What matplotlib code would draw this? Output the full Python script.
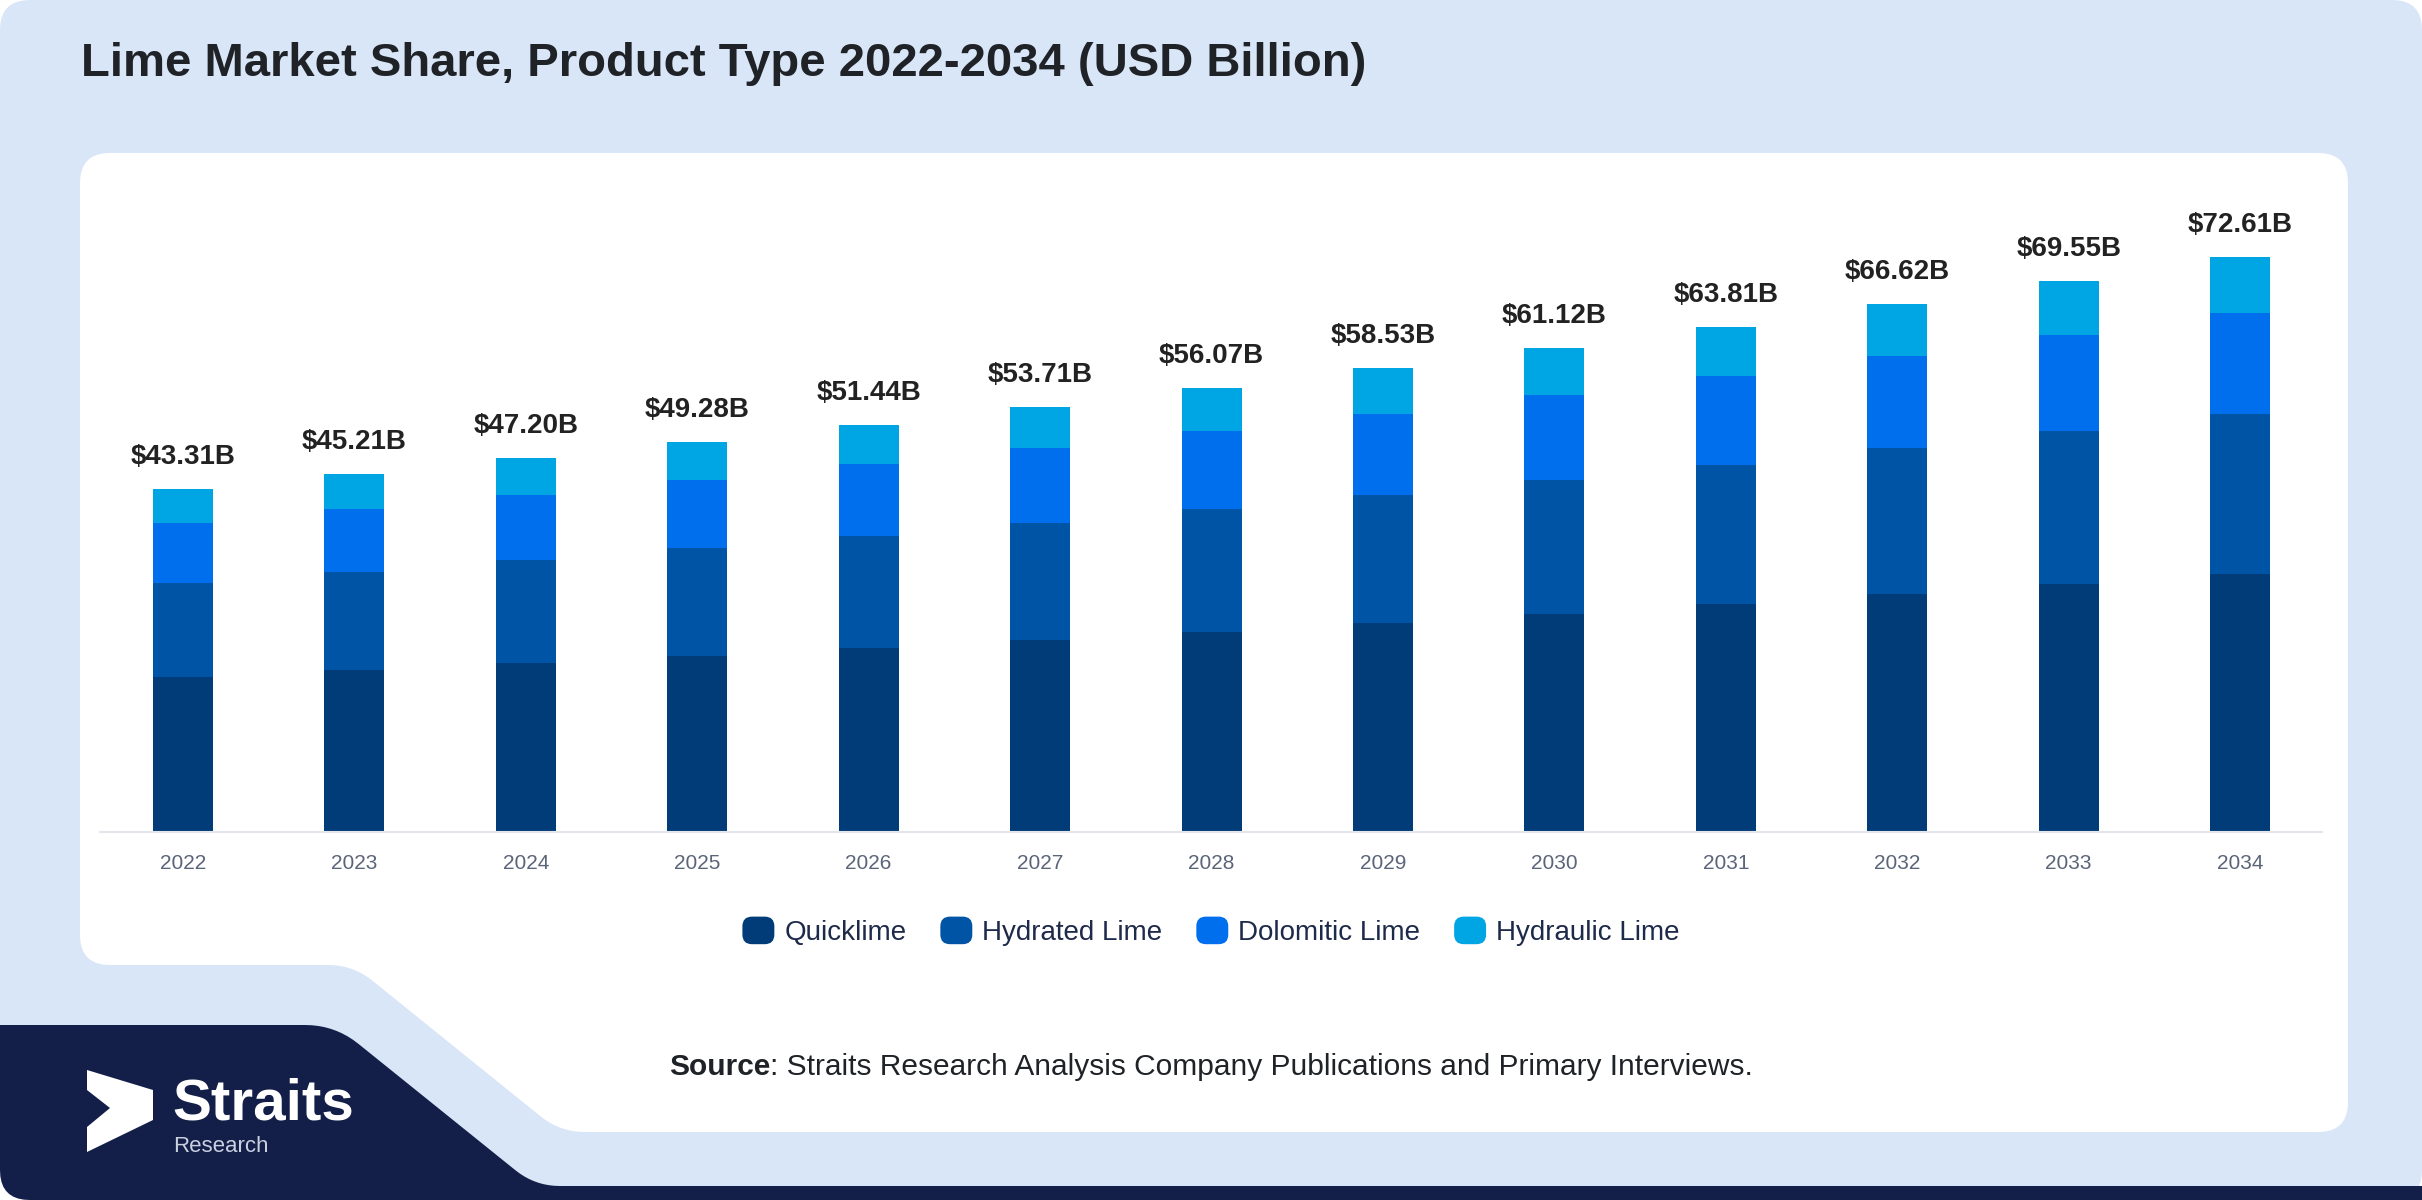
import numpy as np
import matplotlib
matplotlib.use("Agg")
import matplotlib.pyplot as plt
from matplotlib.patches import Polygon, Patch, FancyBboxPatch
from matplotlib.legend_handler import HandlerPatch

plt.rcParams['font.family'] = ['Liberation Sans', 'DejaVu Sans']

# values in USD billion
years = ["2022", "2023", "2024", "2025", "2026", "2027", "2028",
         "2029", "2030", "2031", "2032", "2033", "2034"]
quicklime = [19.57, 20.40, 21.30, 22.22, 23.20, 24.22, 25.27,
             26.38, 27.53, 28.73, 30.00, 31.30, 32.60]
hydrated = [11.87, 12.49, 13.03, 13.62, 14.21, 14.84, 15.50,
            16.18, 16.90, 17.66, 18.43, 19.27, 20.20]
dolomitic = [7.58, 7.90, 8.26, 8.62, 9.00, 9.40, 9.81,
             10.25, 10.71, 11.18, 11.67, 12.19, 12.75]
hydraulic = [4.29, 4.42, 4.61, 4.82, 5.03, 5.25, 5.49,
             5.72, 5.98, 6.24, 6.52, 6.79, 7.06]
series_names = ["Quicklime", "Hydrated Lime", "Dolomitic Lime", "Hydraulic Lime"]

colors = ["#023c78", "#0054a6", "#006fee", "#00a5e3"]
LIGHT = "#d9e6f8"
NAVY = "#131f48"

W, H = 2422, 1200


def rounded(pts, radii, steps=10):
    # polygon with quadratic-bezier rounded corners
    out = []
    n = len(pts)
    for i in range(n):
        p0 = np.array(pts[i - 1], float)
        p1 = np.array(pts[i], float)
        p2 = np.array(pts[(i + 1) % n], float)
        r = radii[i]
        if r == 0:
            out.append(p1)
            continue
        v1 = (p0 - p1) / np.linalg.norm(p0 - p1)
        v2 = (p2 - p1) / np.linalg.norm(p2 - p1)
        a = p1 + v1 * r
        b = p1 + v2 * r
        for t in np.linspace(0, 1, steps):
            out.append((1 - t) ** 2 * a + 2 * (1 - t) * t * p1 + t ** 2 * b)
    return np.array(out)


class RoundHandler(HandlerPatch):
    def create_artists(self, legend, orig_handle, xdescent, ydescent,
                       width, height, fontsize, trans):
        p = FancyBboxPatch((-xdescent, -ydescent), width, height,
                           boxstyle="round,pad=0,rounding_size=%f" % (width * 0.3),
                           facecolor=orig_handle.get_facecolor(),
                           edgecolor="none", transform=trans)
        return [p]


fig = plt.figure(figsize=(W / 100, H / 100), dpi=100)
fig.patch.set_facecolor("white")

# background shapes in pixel coordinates
bg = fig.add_axes([0, 0, 1, 1])
bg.set_xlim(0, W)
bg.set_ylim(H, 0)
bg.axis("off")
bg.set_zorder(0)

bg.add_patch(Polygon(rounded([(0, 0), (W, 0), (W, H), (0, H)], [30, 30, 30, 30]),
                     closed=True, fc=LIGHT, ec="none"))
bg.add_patch(Polygon(rounded([(0, 1025), (335, 1025), (535, 1186), (W, 1186), (W, H), (0, H)],
                             [0, 30, 25, 0, 0, 30]),
                     closed=True, fc=NAVY, ec="none"))
bg.add_patch(Polygon(rounded([(80, 153), (2348, 153), (2348, 1132), (560, 1132), (353, 965), (80, 965)],
                             [30, 30, 30, 25, 25, 30]),
                     closed=True, fc="white", ec="none"))

# logo
bg.add_patch(Polygon([(87, 1070), (153, 1090), (153, 1120), (87, 1152),
                      (87, 1127), (110, 1108), (87, 1090)],
                     closed=True, fc="white", ec="none"))
bg.text(172, 1119, "Straits", fontsize=42, fontweight="bold", color="white", va="baseline")
bg.text(173, 1152, "Research", fontsize=16, color="#c9d0e0", va="baseline")

# title and source
bg.text(81, 76, "Lime Market Share, Product Type 2022-2034 (USD Billion)",
        fontsize=34, fontweight="bold", color="#1f2226", va="baseline")
src = bg.text(669, 1075, "Source", fontsize=21.5, fontweight="bold", color="#1f2226", va="baseline")
bg.annotate(": Straits Research Analysis Company Publications and Primary Interviews.",
            xy=(1, 0), xycoords=src, fontsize=21.5, color="#1f2226", va="bottom", ha="left")

# chart
ax = fig.add_axes([100 / W, 1 - 832 / H, 2222 / W, 632 / H])
ax.set_zorder(1)
ax.patch.set_alpha(0)

x = np.arange(len(years))
bottom = np.zeros(len(years))
handles = []
for vals, name, c in zip([quicklime, hydrated, dolomitic, hydraulic], series_names, colors):
    ax.bar(x, vals, width=0.35, bottom=bottom, color=c, edgecolor="none")
    bottom += np.array(vals)
    handles.append(Patch(facecolor=c, label=name))

for xi, tot in zip(x, bottom):
    ax.annotate("$%.2fB" % tot, xy=(xi, tot), xytext=(0, 18), textcoords="offset points",
                ha="center", va="baseline", fontsize=20, fontweight="bold", color="#222222")

ax.set_xlim(-0.484, 12.478)
ax.set_ylim(0, 79.8)
ax.set_xticks(x)
ax.set_xticklabels(years, fontsize=15, color="#5b6579")
ax.tick_params(axis="x", length=0, pad=16)
ax.set_yticks([])
for s in ["top", "right", "left"]:
    ax.spines[s].set_visible(False)
ax.spines["bottom"].set_color("#e3e6ea")
ax.spines["bottom"].set_linewidth(1.5)

leg = ax.legend(handles=handles, loc="center", bbox_to_anchor=(0.5, -0.157), ncol=4,
                frameon=False, fontsize=20, handlelength=1.15, handleheight=1.15,
                handletextpad=0.36, columnspacing=1.22,
                handler_map={Patch: RoundHandler()})
for t in leg.get_texts():
    t.set_color("#1e2a4a")

fig.savefig("out.png", dpi=100, facecolor=fig.get_facecolor())
